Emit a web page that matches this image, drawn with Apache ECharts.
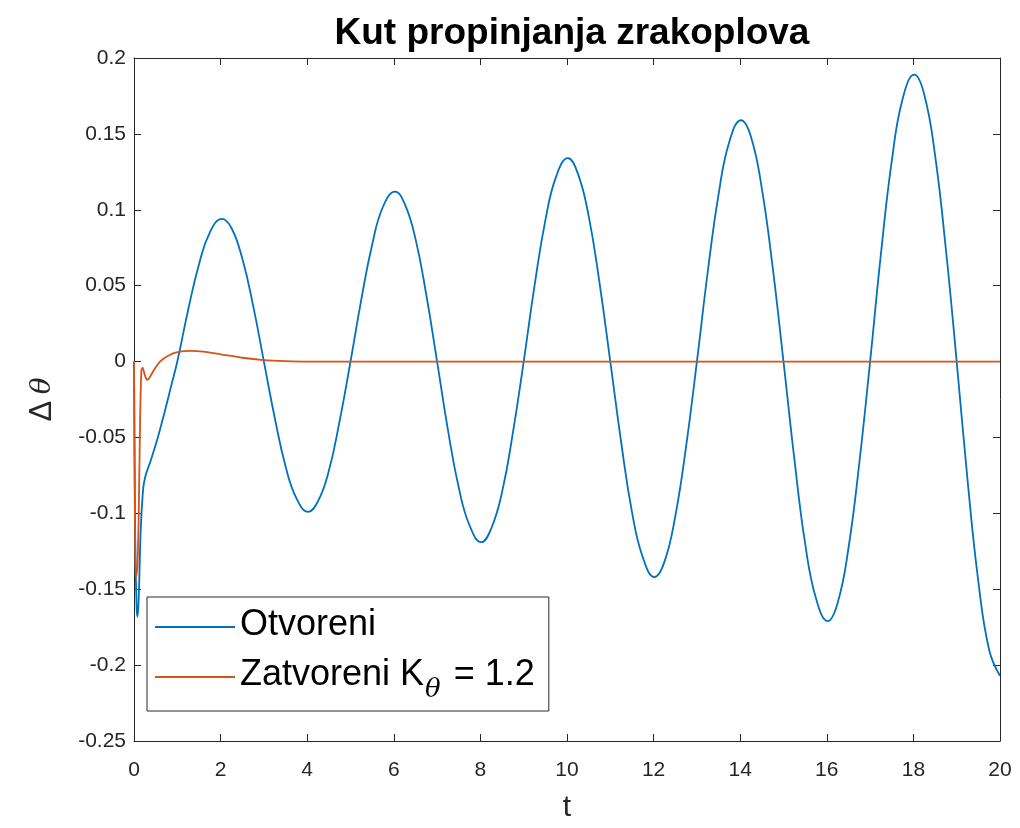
<!DOCTYPE html>
<html>
<head>
<meta charset="utf-8">
<title>Kut propinjanja zrakoplova</title>
<script src="https://cdn.jsdelivr.net/npm/echarts@6/dist/echarts.min.js"></script>
<style>
  html, body { margin: 0; padding: 0; background: #ffffff; }
  #chart { width: 1020px; height: 828px; }
</style>
</head>
<body>
<div id="chart"></div>
<script>
// Pitch-angle response: open loop vs. closed loop with K_theta = 1.2
const xTicks = [0, 2, 4, 6, 8, 10, 12, 14, 16, 18, 20];
const yTicks = [-0.25, -0.2, -0.15, -0.1, -0.05, 0, 0.05, 0.1, 0.15, 0.2];

// Open loop (Otvoreni)
const tOpen = [
  0, 0.03, 0.06, 0.08, 0.11, 0.15, 0.2, 0.25, 0.4, 0.55, 0.7, 0.85, 1.0,
  1.25, 1.5, 1.75, 2.03, 2.25, 2.5, 2.75, 3.0,
  3.25, 3.5, 3.75, 4.02, 4.25, 4.5, 4.75, 5.0,
  5.25, 5.5, 5.75, 6.03, 6.25, 6.5, 6.75, 7.0,
  7.25, 7.5, 7.75, 8.02, 8.25, 8.5, 8.75, 9.0,
  9.25, 9.5, 9.75, 10.02, 10.25, 10.5, 10.75, 11.0,
  11.25, 11.5, 11.75, 12.02, 12.25, 12.5, 12.75, 13.0,
  13.25, 13.5, 13.75, 14.02, 14.25, 14.5, 14.75, 15.0,
  15.25, 15.5, 15.75, 16.02, 16.25, 16.5, 16.75, 17.0,
  17.25, 17.5, 17.75, 18.02, 18.25, 18.5, 18.75, 19.0,
  19.25, 19.5, 19.75, 20.0
];
const vOpen = [
  0, -0.12, -0.162, -0.168, -0.155, -0.115, -0.088, -0.077, -0.064, -0.05, -0.034, -0.017, 0.0,
  0.034, 0.064, 0.085, 0.094, 0.088, 0.068, 0.037, 0.0,
  -0.037, -0.069, -0.09, -0.099, -0.092, -0.072, -0.039, 0.0,
  0.041, 0.077, 0.102, 0.112, 0.104, 0.081, 0.044, 0.0,
  -0.045, -0.083, -0.108, -0.119, -0.11, -0.086, -0.047, 0.0,
  0.05, 0.093, 0.122, 0.134, 0.124, 0.096, 0.052, 0.0,
  -0.053, -0.099, -0.129, -0.142, -0.132, -0.102, -0.056, 0.0,
  0.059, 0.11, 0.145, 0.159, 0.148, 0.114, 0.062, 0.0,
  -0.064, -0.12, -0.156, -0.171, -0.159, -0.123, -0.067, 0.0,
  0.071, 0.132, 0.173, 0.189, 0.176, 0.136, 0.074, 0.0,
  -0.078, -0.145, -0.19, -0.207
];

// Closed loop (Zatvoreni, K_theta = 1.2)
const tClosed = [
  0, 0.01, 0.03, 0.05, 0.08, 0.11, 0.14, 0.17, 0.2, 0.25, 0.3, 0.35, 0.45,
  0.6, 0.8, 1.0, 1.3, 1.6, 2.0, 2.5, 3.0, 3.5, 4.0,
  6, 8, 10, 12, 14, 16, 18, 20
];
const vClosed = [
  0, -0.06, -0.13, -0.142, -0.135, -0.1, -0.04, -0.006, -0.004, -0.009, -0.012, -0.011, -0.006,
  0.0, 0.004, 0.0062, 0.007, 0.0065, 0.0048, 0.0025, 0.001, 0.0003, 0,
  0, 0, 0, 0, 0, 0, 0, 0
];

const openName = 'Otvoreni';
const closedName = 'Zatvoreni K_θ = 1.2';
const titleText = 'Kut propinjanja zrakoplova';

const FONT = '"Liberation Sans", Arial, Helvetica, sans-serif';
const INK = '#262626';

const zip = (xs, ys) => xs.map((x, i) => [x, ys[i]]);

const chart = echarts.init(document.getElementById('chart'));

const axisCommon = {
  type: 'value',
  axisLine: { show: true, onZero: false, lineStyle: { color: INK, width: 1 } },
  axisTick: { show: true, inside: true, length: 7, lineStyle: { color: INK, width: 1 } },
  splitLine: { show: false }
};

const fmt = v => String(Math.round(v * 1000) / 1000);

chart.setOption({
  animation: false,
  backgroundColor: '#ffffff',
  title: {
    text: titleText,
    left: 567,
    top: 10,
    textAlign: 'center',
    textStyle: { fontFamily: FONT, fontWeight: 'bold', fontSize: 37, color: '#000000' }
  },
  grid: { left: 134, right: 20, top: 58, bottom: 83, containLabel: false },
  xAxis: [
    Object.assign({}, axisCommon, {
      position: 'bottom',
      min: xTicks[0], max: xTicks[xTicks.length - 1], interval: 2,
      name: 't',
      nameLocation: 'middle',
      nameGap: 52,
      nameTextStyle: { fontFamily: FONT, fontSize: 30, color: INK },
      axisLabel: { fontFamily: FONT, fontSize: 21, color: INK, margin: 19, formatter: fmt }
    }),
    Object.assign({}, axisCommon, {
      position: 'top',
      min: xTicks[0], max: xTicks[xTicks.length - 1], interval: 2,
      axisLabel: { show: false }
    })
  ],
  yAxis: [
    Object.assign({}, axisCommon, {
      position: 'left',
      min: yTicks[0], max: yTicks[yTicks.length - 1], interval: 0.05,
      name: '{d|Δ}  {th|θ}',
      nameLocation: 'middle',
      nameRotate: 90,
      nameGap: 76,
      nameTextStyle: {
        rich: {
          d: { fontFamily: FONT, fontSize: 31, color: INK },
          th: { fontFamily: '"DejaVu Serif", serif', fontStyle: 'italic', fontSize: 28, color: INK }
        }
      },
      axisLabel: { fontFamily: FONT, fontSize: 21, color: INK, margin: 8, formatter: fmt }
    }),
    Object.assign({}, axisCommon, {
      position: 'right',
      min: yTicks[0], max: yTicks[yTicks.length - 1], interval: 0.05,
      axisLabel: { show: false }
    })
  ],
  legend: {
    orient: 'vertical',
    left: 147,
    top: 597,
    backgroundColor: '#ffffff',
    borderColor: INK,
    borderWidth: 1,
    borderRadius: 0,
    padding: [10, 14, 8, 8],
    itemGap: 14,
    itemWidth: 80,
    itemHeight: 2,
    icon: 'rect',
    data: [openName, closedName],
    formatter: name => name === closedName
      ? '{n|Zatvoreni K}{s|θ}{n| = 1.2}'
      : '{n|' + name + '}',
    textStyle: {
      rich: {
        n: { fontFamily: FONT, fontSize: 36, color: '#000000', lineHeight: 40, verticalAlign: 'top' },
        s: { fontFamily: '"DejaVu Serif", serif', fontStyle: 'italic', fontSize: 26, color: '#000000',
             lineHeight: 26, padding: [20, 3, 0, 1], verticalAlign: 'top' }
      }
    }
  },
  series: [
    {
      name: openName,
      type: 'line',
      data: zip(tOpen, vOpen),
      showSymbol: false,
      symbol: 'none',
      smooth: 0.45,
      lineStyle: { color: '#0072BD', width: 1.8 },
      itemStyle: { color: '#0072BD' },
      clip: true
    },
    {
      name: closedName,
      type: 'line',
      data: zip(tClosed, vClosed),
      showSymbol: false,
      symbol: 'none',
      smooth: 0.2,
      lineStyle: { color: '#D95319', width: 1.8 },
      itemStyle: { color: '#D95319' },
      clip: true
    }
  ]
});
</script>
</body>
</html>
